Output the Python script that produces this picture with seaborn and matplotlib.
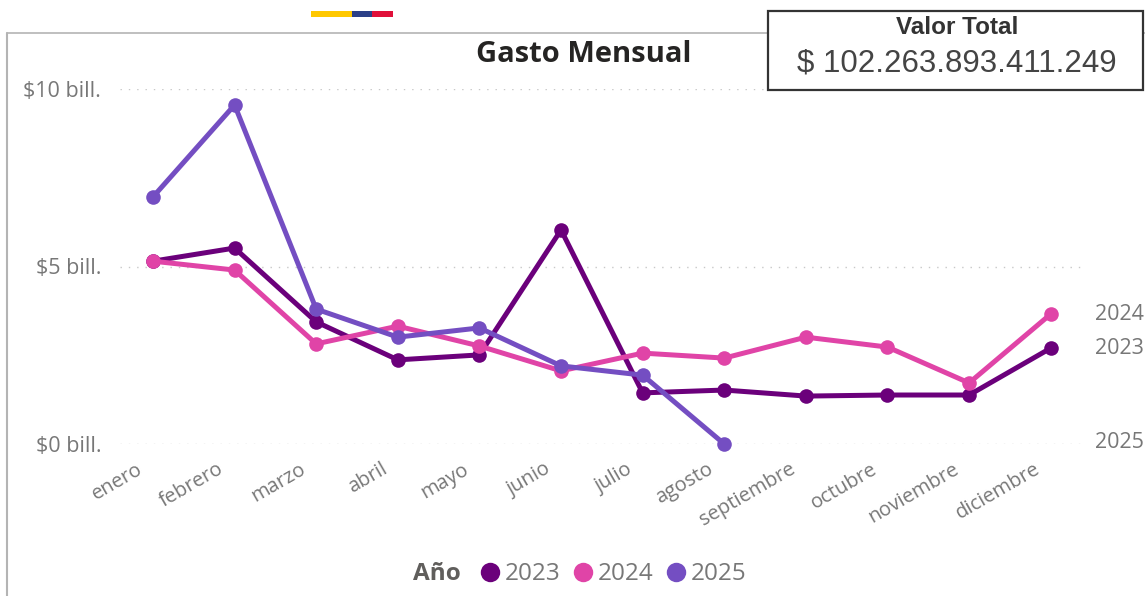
import pandas as pd
import matplotlib
matplotlib.use("Agg")
import matplotlib.pyplot as plt
from matplotlib.lines import Line2D
from matplotlib.patches import Rectangle
from matplotlib.transforms import ScaledTranslation
import seaborn as sns

# Data (billones)
meses = ["enero", "febrero", "marzo", "abril", "mayo", "junio", "julio", "agosto",
         "septiembre", "octubre", "noviembre", "diciembre"]
gasto_2023 = [5.15, 5.52, 3.44, 2.37, 2.51, 6.03, 1.44, 1.52, 1.35, 1.38, 1.38, 2.70]
gasto_2024 = [5.15, 4.90, 2.82, 3.32, 2.76, 2.06, 2.56, 2.42, 3.01, 2.73, 1.72, 3.66]
gasto_2025 = [6.96, 9.55, 3.80, 3.01, 3.27, 2.20, 1.94, 0.0]
y_ticks = [0, 5, 10]
y_labels = ["$0 bill.", "$5 bill.", "$10 bill."]
total = "$ 102.263.893.411.249"

colores = {"2023": "#6B007B", "2024": "#E044A7", "2025": "#744EC2"}
GRIS = "#777777"
W, H = 1145, 596

sns.set_theme(style="white")
plt.rcParams["font.family"] = ["Open Sans", "DejaVu Sans"]


def fx(x):
    return x / W


def fy(y):
    return 1 - y / H


rows = []
for anio, valores in [("2023", gasto_2023), ("2024", gasto_2024), ("2025", gasto_2025)]:
    for mes, v in zip(meses, valores):
        rows.append({"mes": mes, "valor": v, "anio": anio})
df = pd.DataFrame(rows)

fig = plt.figure(figsize=(W / 100, H / 100), dpi=100)
ax = fig.add_axes([fx(120), fy(444), (1085 - 120) / W, 355 / H])

sns.lineplot(data=df, x="mes", y="valor", hue="anio", palette=colores, sort=False,
             marker="o", markersize=10.5, markeredgewidth=0, linewidth=3.6,
             legend=False, ax=ax, clip_on=False)

ax.set_xlim(-0.404, 11.42)
ax.set_ylim(0, 10)
ax.set_xlabel("")
ax.set_ylabel("")
ax.set_yticks(y_ticks)
ax.set_yticklabels(y_labels, color=GRIS, fontsize=15.5)
ax.tick_params(axis="y", length=0, pad=13.5)
ax.set_xticks(range(len(meses)))
ax.set_xticklabels(meses, rotation=30, ha="right", rotation_mode="anchor",
                   color=GRIS, fontsize=14.5)
ax.tick_params(axis="x", length=0, pad=11)
# move the month labels left so they end before their point, as in the reference
shift = ScaledTranslation(-17 / 100, 0, fig.dpi_scale_trans)
for lab in ax.get_xticklabels():
    lab.set_transform(lab.get_transform() + shift)
ax.grid(axis="y", color="#c8c8c8", linestyle=(0, (1, 5)), linewidth=1)
ax.set_axisbelow(True)
sns.despine(ax=ax, left=True, bottom=True)

# End labels of each series
for anio, y_px in [("2024", 314), ("2023", 348), ("2025", 443)]:
    fig.text(fx(1095), fy(y_px), anio, color=GRIS, fontsize=15.5, va="center", ha="left")

# Card frame
fig.add_artist(Line2D([fx(7), fx(7)], [fy(33), 0], color="#b4b4b4", linewidth=1.5, zorder=1))
fig.add_artist(Line2D([fx(7), fx(1145)], [fy(33), fy(33)], color="#b4b4b4", linewidth=1.2, zorder=1))

fig.text(fx(584), fy(54), "Gasto Mensual", color="#252423", fontsize=21, fontweight="bold",
         ha="center", va="center")

# Flag bar
for x0, x1, c in [(311, 352, "#FFC800"), (352, 372, "#2B3F87"), (372, 393, "#E0103A")]:
    fig.add_artist(Rectangle((fx(x0), fy(17)), (x1 - x0) / W, 6 / H, color=c, linewidth=0))

# Total box
fig.add_artist(Rectangle((fx(768), fy(90)), 375 / W, 79 / H, facecolor="white",
                         edgecolor="#333333", linewidth=1.6, zorder=2))
fig.text(fx(957), fy(27), "Valor Total", family="Liberation Sans", fontweight="bold",
         fontsize=17.5, color="#333333", ha="center", va="center", zorder=3)
fig.text(fx(957), fy(64), total, family="Liberation Sans", fontsize=22.5,
         color="#444444", ha="center", va="center", zorder=3)

# Legend
fig.text(fx(413), fy(574), "Año", color="#605E5C", fontsize=17.5, fontweight="bold",
         ha="left", va="center")
for anio, x_dot, x_txt in [("2023", 490, 505), ("2024", 583, 598), ("2025", 676, 691)]:
    fig.add_artist(Line2D([fx(x_dot)], [fy(572)], marker="o", markersize=14,
                          markeredgewidth=0, color=colores[anio]))
    fig.text(fx(x_txt), fy(574), anio, color=GRIS, fontsize=17.5, ha="left", va="center")

fig.savefig("out.png", dpi=100)
